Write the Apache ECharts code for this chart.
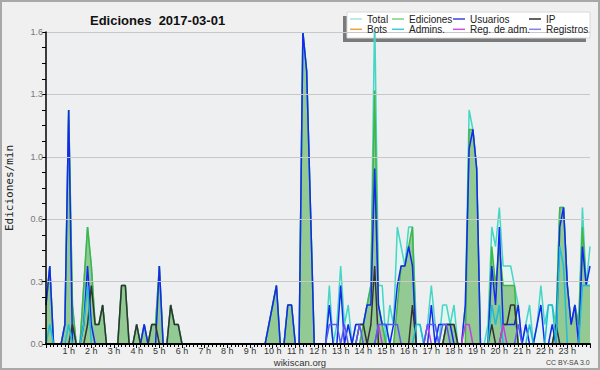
<!DOCTYPE html>
<html>
<head>
<meta charset="utf-8">
<script src="https://cdn.jsdelivr.net/npm/echarts@6/dist/echarts.min.js"></script>
<style>
html,body{margin:0;padding:0;background:#f0f0f0;}
#c{width:600px;height:370px;}
</style>
</head>
<body>
<div id="c"></div>
<script>
// 10-minute samples from 00:00 to 24:00 (145 points), values in edits/min
const stepHours = 10 / 60;
const hourLabels = ['1 h','2 h','3 h','4 h','5 h','6 h','7 h','8 h','9 h','10 h','11 h','12 h',
  '13 h','14 h','15 h','16 h','17 h','18 h','19 h','20 h','21 h','22 h','23 h'];
const yTicks = [0, 0.32, 0.64, 0.96, 1.28, 1.6];

const total = [
  0.2,0.4,0,0,0,0.1,1.2,0.2,0,0,0.3,0.6,
  0.4,0.1,0.1,0.2,0,0,0,0,0.3,0.3,0,0,
  0.1,0,0.1,0,0.1,0.1,0.4,0,0,0.2,0.1,0.1,
  0,0,0,0,0,0,0,0,0,0,0,0,
  0,0,0,0,0,0,0,0,0,0,0,0.1,
  0.2,0.3,0,0,0.2,0.2,0,0,1.6,1.4,0.7,0,
  0,0,0,0.3,0,0.1,0.4,0.1,0.2,0,0.1,0.1,
  0.1,0.2,0.3,1.7,0.3,0.3,0,0.2,0.1,0.6,0.5,0.4,
  0.6,0.6,0.1,0.1,0,0.1,0.3,0.1,0,0.2,0.2,0.1,
  0.2,0,0,0.2,1.2,1.1,0.9,0,0,0.1,0.6,0.5,
  0.7,0.4,0.4,0.4,0.3,0.2,0,0.1,0.2,0,0.1,0.3,
  0.1,0.2,0.2,0.1,0.7,0.7,0.3,0.1,0.2,0.1,0.7,0.3,
  0.5];
const ediciones = [
  0.2,0.4,0,0,0,0.1,1.2,0.2,0,0,0.3,0.6,
  0.4,0.1,0.1,0.2,0,0,0,0,0.3,0.3,0,0,
  0.1,0,0.1,0,0.1,0.1,0.4,0,0,0.2,0.1,0.1,
  0,0,0,0,0,0,0,0,0,0,0,0,
  0,0,0,0,0,0,0,0,0,0,0,0.1,
  0.2,0.3,0,0,0.2,0.2,0,0,1.6,1.4,0.7,0,
  0,0,0,0,0,0,0,0,0,0,0,0,
  0.1,0.2,0.3,1.3,0.2,0.1,0,0,0,0.2,0.4,0.4,
  0.5,0.6,0,0,0,0,0,0,0,0,0.1,0.1,
  0.1,0,0,0,1.1,1.1,0.9,0,0,0,0.5,0.3,
  0.5,0.3,0.3,0.3,0.3,0,0,0,0,0,0,0,
  0,0,0,0.1,0.7,0.7,0.3,0.1,0.2,0.1,0.6,0.3,
  0.3];
const usuarios = [
  0.2,0.4,0,0,0,0.1,1.2,0,0,0,0.1,0.4,
  0.1,0,0,0,0,0,0,0,0,0,0,0,
  0,0,0.1,0,0,0,0.4,0,0,0,0,0,
  0,0,0,0,0,0,0,0,0,0,0,0,
  0,0,0,0,0,0,0,0,0,0,0,0.1,
  0.2,0.3,0,0,0.2,0.2,0,0,1.6,1.4,0.7,0,
  0,0,0,0.2,0,0,0.3,0,0.1,0,0.1,0.1,
  0.1,0.2,0.2,0.9,0.2,0.1,0.1,0,0.1,0.3,0.4,0.4,
  0.5,0.4,0,0,0,0,0.2,0,0.1,0.1,0.1,0.1,
  0,0,0,0.2,1.0,1.1,0.9,0,0,0,0.4,0.2,
  0.6,0.1,0.1,0.1,0.1,0.2,0,0.1,0,0,0.1,0.2,
  0,0,0.1,0,0.6,0.7,0.3,0.1,0.2,0,0.5,0.3,
  0.4];
const ip = [
  0,0,0,0,0,0,0,0.1,0,0,0,0.1,
  0.3,0.1,0.1,0.2,0,0,0,0,0.3,0.3,0,0,
  0.1,0,0,0,0.1,0.1,0,0,0,0.2,0.1,0.1,
  0,0,0,0,0,0,0,0,0,0,0,0,
  0,0,0,0,0,0,0,0,0,0,0,0,
  0,0,0,0,0,0,0,0,0,0,0,0,
  0,0,0,0,0,0,0,0,0,0,0,0.1,
  0.1,0,0.1,0.4,0,0,0,0,0,0,0,0,
  0,0.2,0,0,0,0,0,0,0,0,0.1,0.1,
  0.1,0,0,0,0,0,0,0,0,0,0.1,0,
  0,0.1,0.1,0.2,0.2,0,0,0,0,0,0,0,
  0,0,0,0.1,0,0,0,0,0,0,0,0,
  0];
const bots = [
  0,0,0,0,0,0,0,0,0,0,0,0, 0,0,0,0,0,0,0,0,0,0,0,0,
  0,0,0,0,0,0,0,0,0,0,0,0, 0,0,0,0,0,0,0,0,0,0,0,0,
  0,0,0,0,0,0,0,0,0,0,0,0, 0,0,0,0,0,0,0,0,0,0,0,0,
  0,0,0,0,0,0,0,0,0,0,0,0, 0,0,0,0,0,0,0,0,0,0,0,0,
  0,0,0,0,0,0,0,0,0,0,0,0, 0,0,0,0,0,0,0,0,0,0,0,0,
  0,0,0,0,0,0,0,0,0,0,0,0, 0,0,0,0,0,0,0,0,0,0,0,0,
  0];
const admins = [
  0,0.1,0,0,0,0,0.1,0,0,0,0.1,0.3,
  0,0,0,0,0,0,0,0,0,0,0,0,
  0,0,0,0,0,0,0,0,0,0,0,0,
  0,0,0,0,0,0,0,0,0,0,0,0,
  0,0,0,0,0,0,0,0,0,0,0,0,
  0,0,0,0,0,0,0,0,0,0,0,0,
  0,0,0,0,0,0,0,0,0,0,0,0,
  0,0,0,0,0,0,0,0,0,0,0,0,
  0,0,0.1,0.1,0,0,0,0,0,0,0,0,
  0,0,0,0,0,0,0,0,0,0,0.2,0.1,
  0.2,0,0,0,0,0,0,0,0.1,0,0,0,
  0,0.2,0.2,0,0.5,0.4,0,0,0,0,0.3,0.3,
  0.3];
const regAdm = [
  0,0,0,0,0,0,0,0,0,0,0,0, 0,0,0,0,0,0,0,0,0,0,0,0,
  0,0,0,0,0,0,0,0,0,0,0,0, 0,0,0,0,0,0,0,0,0,0,0,0,
  0,0,0,0,0,0,0,0,0,0,0,0, 0,0,0,0,0,0,0,0,0,0,0,0,
  0,0,0,0,0,0,0,0,0,0,0,0,
  0,0,0,0,0.1,0,0,0,0,0,0,0,
  0,0,0,0,0,0.1,0,0,0,0,0,0,
  0,0,0,0.1,0.1,0,0,0,0,0,0,0,
  0,0.1,0,0,0,0,0,0,0,0,0,0,
  0,0,0,0,0,0,0,0,0,0,0,0,
  0];
const registros = [
  0,0,0,0,0,0,0,0,0,0,0,0, 0,0,0,0,0,0,0,0,0,0,0,0,
  0,0,0,0,0,0,0,0,0,0,0,0, 0,0,0,0,0,0,0,0,0,0,0,0,
  0,0,0,0,0,0,0,0,0,0,0,0, 0,0,0,0,0,0,0,0,0,0,0,0,
  0,0,0,0.1,0.1,0.1,0,0.1,0,0,0,0.1,
  0,0,0,0,0.1,0.1,0.1,0.1,0.1,0.1,0,0,
  0,0,0,0,0,0.1,0.1,0.1,0,0.1,0.1,0,
  0,0,0,0,0,0,0,0,0,0,0,0,
  0,0,0,0,0,0.1,0,0,0,0,0,0,
  0,0,0,0,0,0,0,0,0,0,0,0,
  0];

const FONT = 'Liberation Sans';
function pts(arr){ return arr.map((v,k)=>[k*stepHours, v]); }
function lineSeries(name, arr, color, extra){
  return Object.assign({
    name, type:'line', data: pts(arr), symbol:'none', animation:false,
    lineStyle:{color, width:1.5}, itemStyle:{color}, emphasis:{disabled:true}
  }, extra||{});
}

const chart = echarts.init(document.getElementById('c'), null, {renderer:'svg'});
const legendBase = {
  orient:'vertical', top:14, itemWidth:12, itemHeight:1.5, itemGap:0.3, icon:'rect',
  selectedMode:false, padding:0, z:100, zlevel:0,
  textStyle:{fontFamily:FONT, fontSize:10, color:'#222', lineHeight:10}
};
chart.setOption({
  backgroundColor:'#f0f0f0',
  animation:false,
  title:{text:'Ediciones  2017-03-01', left:85, top:9,
    textStyle:{fontFamily:FONT, fontSize:13, fontWeight:'bold', color:'#111'}},
  grid:{left:46, right:10, top:32, bottom:26, show:true, backgroundColor:'#edeff1', borderWidth:0,
    containLabel:false, outerBoundsMode:'none'},
  legend:[
    Object.assign({left:350, data:[{name:'Total', itemStyle:{color:'#a8e2e0'}},{name:'Bots', itemStyle:{color:'#f0a040'}}]}, legendBase),
    Object.assign({left:392, data:[{name:'Ediciones', itemStyle:{color:'#80d080'}},{name:'Admins.', itemStyle:{color:'#40c8e0'}}]}, legendBase),
    Object.assign({left:453, data:[{name:'Usuarios', itemStyle:{color:'#4040e0'}},{name:'Reg. de adm.', itemStyle:{color:'#d050e0'}}]}, legendBase),
    Object.assign({left:529, data:[{name:'IP', itemStyle:{color:'#303030'}},{name:'Registros', itemStyle:{color:'#8080f0'}}]}, legendBase)
  ],
  xAxis:{type:'value', min:0, max:24, interval:1, z:10,
    axisLine:{lineStyle:{color:'#000', width:2}},
    axisTick:{show:true, length:4, lineStyle:{color:'#000'}},
    minorTick:{show:true, splitNumber:6, length:3, lineStyle:{color:'#000'}},
    splitLine:{show:false},
    axisLabel:{margin:2, fontFamily:FONT, fontSize:9, lineHeight:9, color:'#333',
      formatter:v => (v>=1 && v<=23) ? hourLabels[v-1] : ''}
  },
  yAxis:{type:'value', min:yTicks[0], max:yTicks[yTicks.length-1], interval:yTicks[1]-yTicks[0], z:10,
    name:'Ediciones/min', nameLocation:'middle', nameGap:31, nameRotate:90,
    nameTextStyle:{fontFamily:'DejaVu Sans Mono', fontSize:11, color:'#222'},
    axisLine:{show:true, lineStyle:{color:'#000', width:1.5}},
    axisTick:{show:true, length:4, lineStyle:{color:'#000'}},
    minorTick:{show:true, splitNumber:4, length:4, lineStyle:{color:'#000'}},
    splitLine:{show:true, lineStyle:{color:'#c8c8c8', width:1}},
    axisLabel:{margin:3, fontFamily:FONT, fontSize:9, color:'#777', formatter:v => v.toFixed(1)}
  },
  series:[
    lineSeries('Total', total, '#44d6c6', {areaStyle:{color:'#e3f6f0', opacity:1}}),
    lineSeries('Ediciones', ediciones, '#44b444', {areaStyle:{color:'#93c993', opacity:1}}),
    lineSeries('Usuarios', usuarios, '#1428f0'),
    lineSeries('IP', ip, '#333333'),
    lineSeries('Bots', bots, '#f0a040'),
    lineSeries('Admins.', admins, '#20bcd8'),
    lineSeries('Reg. de adm.', regAdm, '#c040e0'),
    lineSeries('Registros', registros, '#5a5af0')
  ],
  graphic:{elements:[
    {type:'rect', z:-1, silent:true, shape:{x:1,y:1,width:598,height:368}, style:{fill:'none', stroke:'#a8a8a8', lineWidth:2}},
    {type:'rect', z:1, silent:true, shape:{x:343,y:16,width:243,height:26}, style:{fill:'#7a7a7a'}},
    {type:'rect', z:2, silent:true, shape:{x:347,y:12,width:243,height:26}, style:{fill:'#ffffff', stroke:'#d8d8d8', lineWidth:1}},
    {type:'text', silent:true, left:'center', top:357, style:{text:'wikiscan.org', fontFamily:FONT, fontSize:9.5, fill:'#333'}},
    {type:'text', silent:true, right:10, top:359, style:{text:'CC BY-SA 3.0', fontFamily:FONT, fontSize:7, fill:'#444'}}
  ]}
});
</script>
</body>
</html>
